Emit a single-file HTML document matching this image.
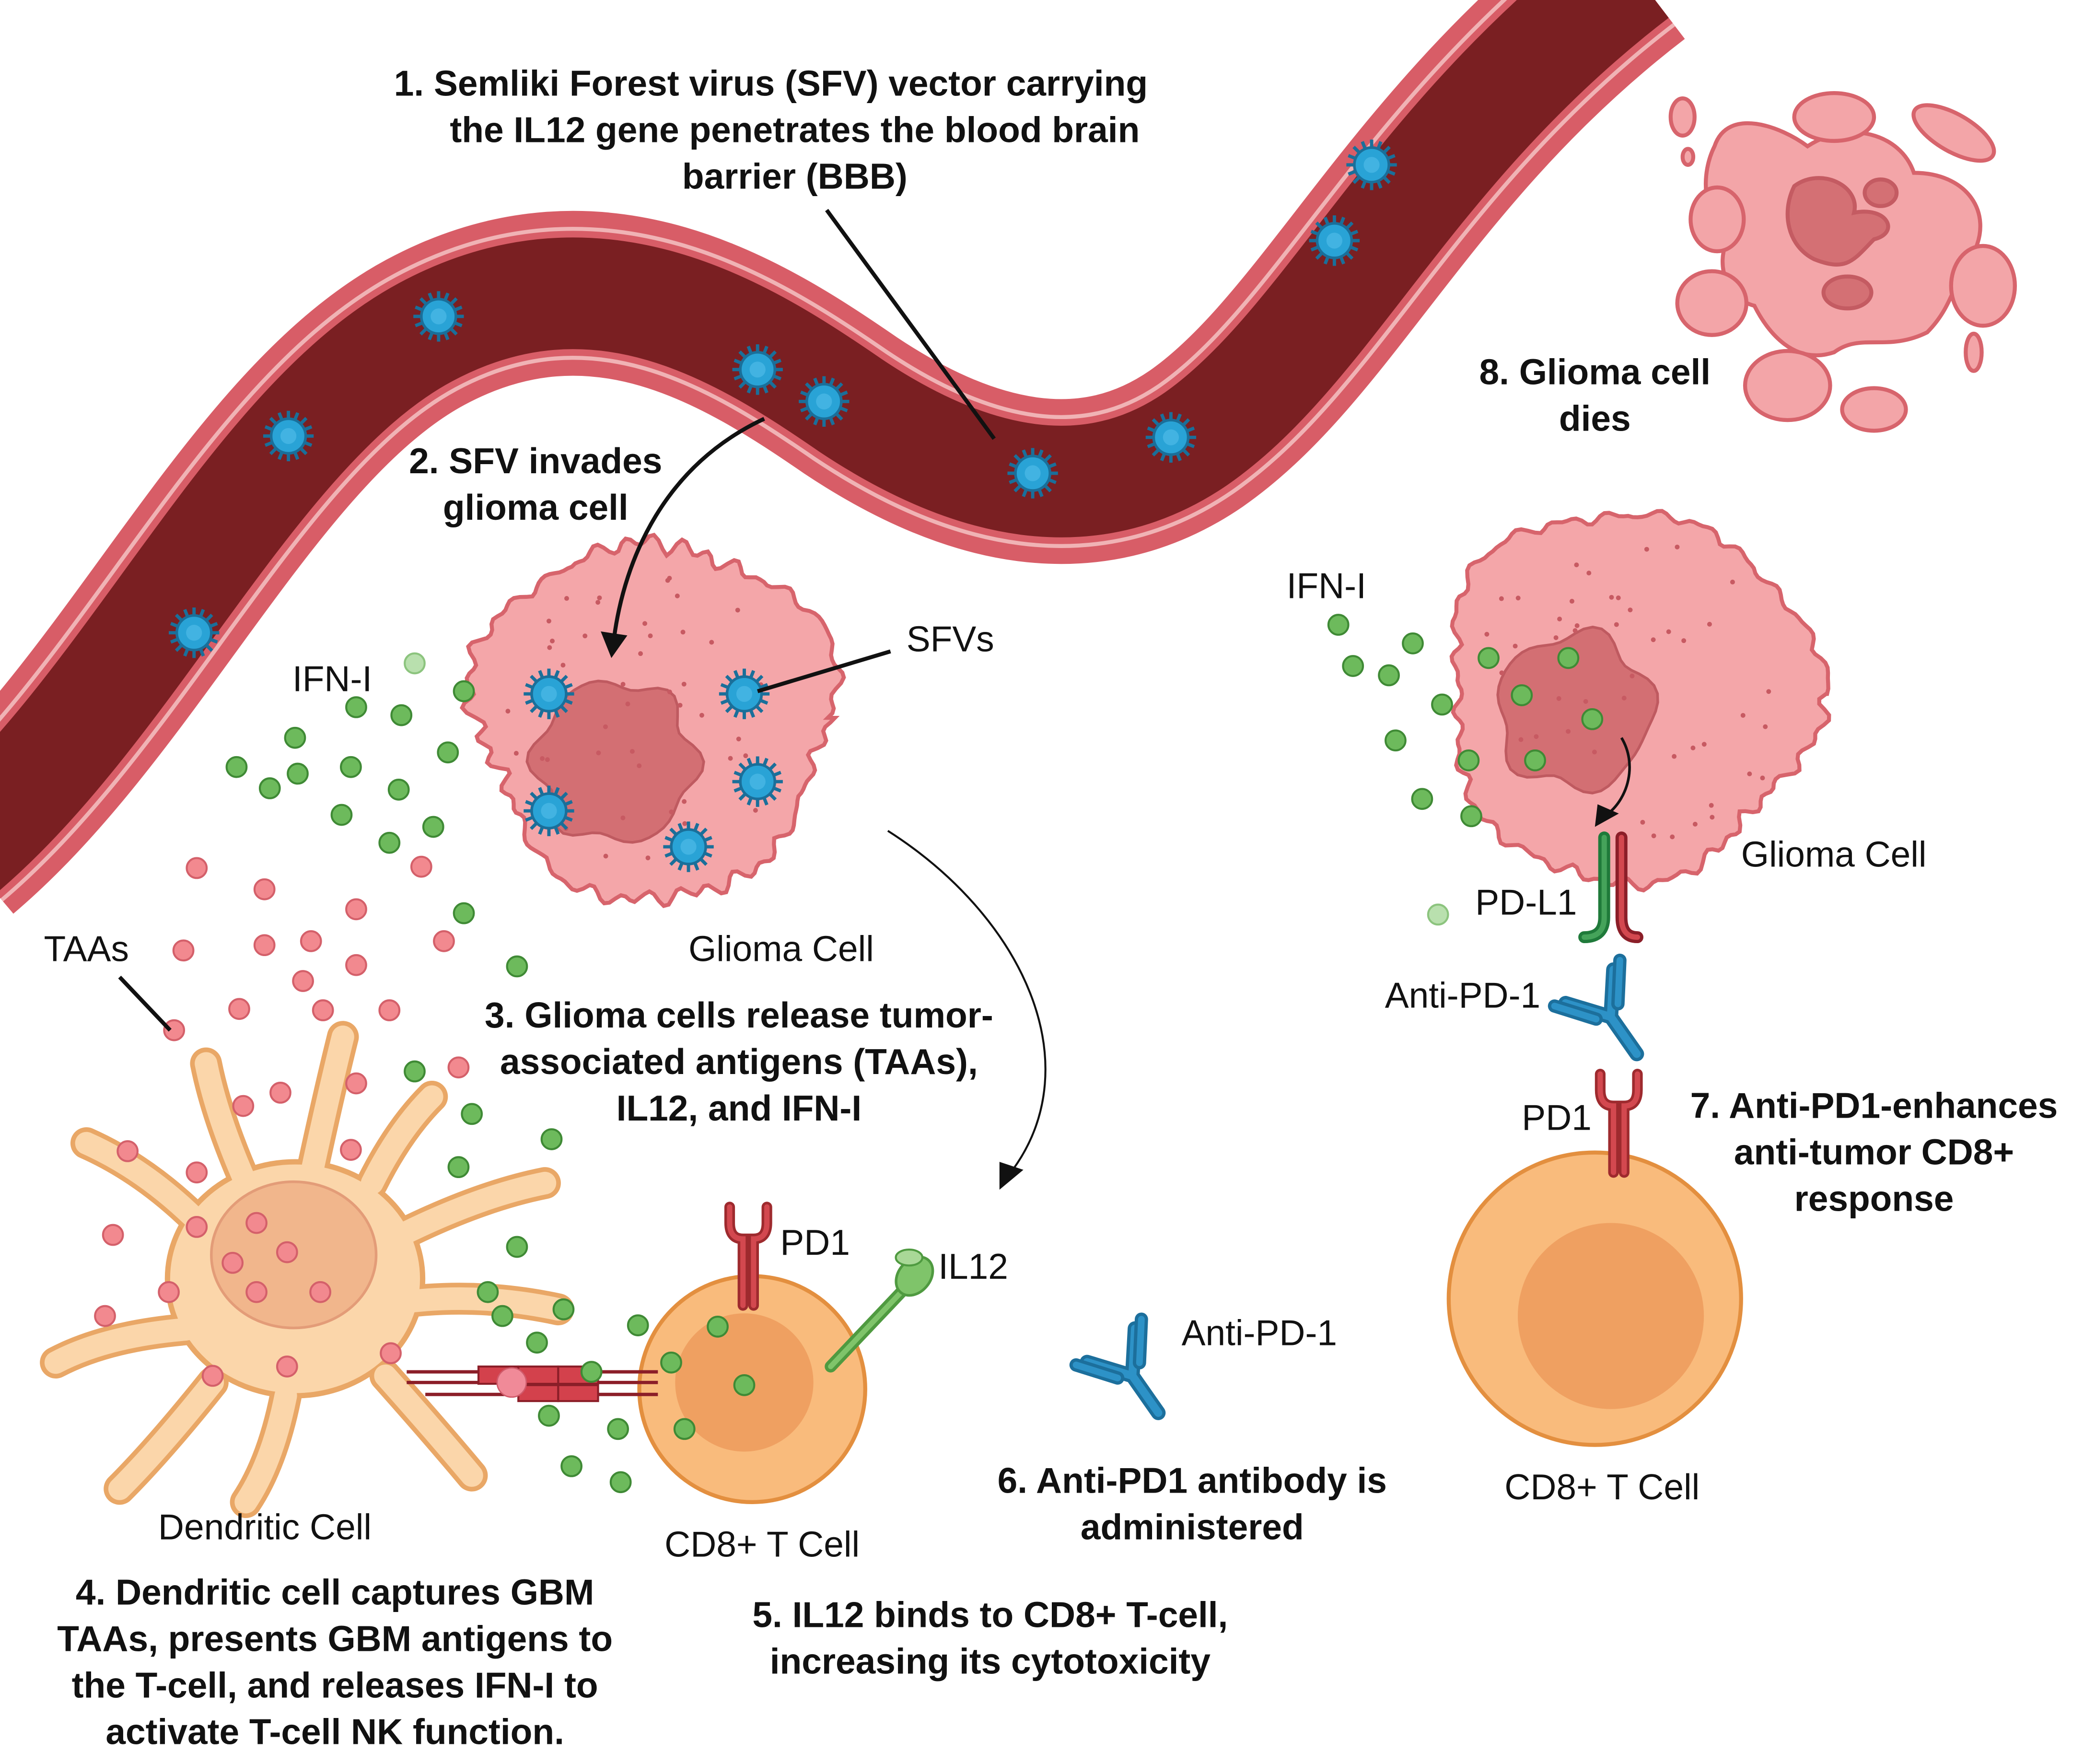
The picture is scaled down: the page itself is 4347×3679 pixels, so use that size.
<!DOCTYPE html>
<html><head><meta charset="utf-8"><style>
html,body{margin:0;padding:0;background:#fff}
svg{display:block}
text{font-family:"Liberation Sans",sans-serif;fill:#111}
.b{font-weight:bold;font-size:27px}
.n{font-size:27px}
</style></head><body>
<svg id="s" width="4347" height="3679" viewBox="0 0 1568 1327" xmlns="http://www.w3.org/2000/svg">
<defs>
<g id="v">
<g stroke="#1a6f9a" stroke-width="2.5">
<line x1="0" y1="-19" x2="0" y2="19"/><line x1="-19" y1="0" x2="19" y2="0"/>
<line x1="-13.5" y1="-13.5" x2="13.5" y2="13.5"/><line x1="13.5" y1="-13.5" x2="-13.5" y2="13.5"/>
<line x1="-7" y1="-17.5" x2="7" y2="17.5"/><line x1="7" y1="-17.5" x2="-7" y2="17.5"/>
<line x1="-17.5" y1="-7" x2="17.5" y2="7"/><line x1="17.5" y1="-7" x2="-17.5" y2="7"/>
</g>
<circle r="13" fill="#29a3d6" stroke="#1a6f9a" stroke-width="2"/>
<circle r="6" fill="#5cc4ee" opacity=".5"/>
</g>
<g id="ab" fill="none" stroke-linecap="round">
<path d="M0,0 L0,34 M0,0 L-22,-28 M0,0 L22,-28" stroke="#1c6f9c" stroke-width="11"/>
<path d="M0,0 L0,34 M0,0 L-22,-28 M0,0 L22,-28" stroke="#2d92c7" stroke-width="6"/>
<path d="M-10,-5 L-30,-31 M10,-5 L30,-31" stroke="#1c6f9c" stroke-width="10"/>
<path d="M-10,-5 L-30,-31 M10,-5 L30,-31" stroke="#2d92c7" stroke-width="5"/>
</g>
<g id="pd1">
<path d="M-4,60 L-4,10 Q-14,10 -14,-2 L-14,-14 M4,60 L4,10 Q14,10 14,-2 L14,-14" fill="none" stroke="#9e2a2e" stroke-width="8" stroke-linecap="round"/>
<path d="M-4,60 L-4,10 Q-14,10 -14,-2 L-14,-14 M4,60 L4,10 Q14,10 14,-2 L14,-14" fill="none" stroke="#d3484f" stroke-width="4" stroke-linecap="round"/>
</g>
<path id="arms" d="M235,880 Q248,820 258,780 M185,890 Q163,840 155,800 M150,920 Q110,880 65,860 M140,1000 Q80,1005 42,1025 M160,1040 Q120,1090 90,1120 M215,1050 Q205,1100 185,1130 M290,1035 Q330,1080 355,1110 M300,980 Q360,972 420,985 M300,930 Q360,900 410,890 M280,890 Q300,850 325,825"/>
</defs>

<g fill="none">
<path d="M-30,640 C100,530 190,320 320,250 C450,180 560,250 640,305 C730,365 820,385 900,330 C1000,260 1060,110 1230,-20" stroke="#d85d67" stroke-width="124"/>
<path d="M-30,640 C100,530 190,320 320,250 C450,180 560,250 640,305 C730,365 820,385 900,330 C1000,260 1060,110 1230,-20" stroke="#f0b3b5" stroke-width="100"/>
<path d="M-30,640 C100,530 190,320 320,250 C450,180 560,250 640,305 C730,365 820,385 900,330 C1000,260 1060,110 1230,-20" stroke="#d85d67" stroke-width="94"/>
<path d="M-30,640 C100,530 190,320 320,250 C450,180 560,250 640,305 C730,365 820,385 900,330 C1000,260 1060,110 1230,-20" stroke="#7a1f22" stroke-width="84"/>
</g>

<g fill="#f3a5a8" stroke="#d7646c" stroke-width="3">
<path d="M1290,110 C1300,80 1340,95 1360,110 C1390,90 1430,100 1440,130 C1480,130 1500,160 1485,190 C1470,210 1470,230 1450,250 C1420,265 1400,250 1380,265 C1350,275 1330,250 1320,230 C1300,225 1290,200 1300,180 C1280,160 1280,130 1290,110 Z"/>
<ellipse cx="1380" cy="88" rx="30" ry="18"/>
<ellipse cx="1470" cy="100" rx="34" ry="14" transform="rotate(30 1470 100)"/>
<ellipse cx="1292" cy="165" rx="20" ry="24"/>
<ellipse cx="1288" cy="228" rx="26" ry="24"/>
<ellipse cx="1492" cy="215" rx="24" ry="30"/>
<ellipse cx="1345" cy="290" rx="32" ry="26"/>
<ellipse cx="1410" cy="308" rx="24" ry="16"/>
<ellipse cx="1485" cy="265" rx="6" ry="14"/>
<ellipse cx="1266" cy="88" rx="9" ry="14"/>
<ellipse cx="1270" cy="118" rx="4" ry="6"/>
<path d="M1350,140 C1370,125 1400,140 1395,160 C1420,155 1430,175 1410,180 C1395,195 1390,205 1365,195 C1345,185 1340,160 1350,140 Z" fill="#d47074" stroke="#c45b62"/>
<ellipse cx="1390" cy="220" rx="18" ry="12" fill="#d47074" stroke="#c45b62"/>
<ellipse cx="1415" cy="145" rx="12" ry="10" fill="#d47074" stroke="#c45b62"/>
</g>

<path id="g1" fill="#f4a6a9" stroke="#d7646c" stroke-width="3"/>
<path id="n1" fill="#d36f73" stroke="#bf5a60" stroke-width="2"/>
<path id="g2" fill="#f4a6a9" stroke="#d7646c" stroke-width="3"/>
<path id="n2" fill="#d36f73" stroke="#bf5a60" stroke-width="2"/>
<g id="spk"></g>

<!-- dendritic cell -->
<use href="#arms" fill="none" stroke="#e9a766" stroke-width="24" stroke-linecap="round"/>
<ellipse cx="222" cy="962" rx="96" ry="88" fill="#fbd6aa" stroke="#e9a766" stroke-width="4"/>
<use href="#arms" fill="none" stroke="#fbd6aa" stroke-width="17" stroke-linecap="round"/>
<ellipse cx="221" cy="944" rx="62" ry="55" fill="#f1b68c" stroke="#e39c78" stroke-width="2"/>

<g id="vir"></g>

<circle cx="566" cy="1045" r="85" fill="#f9bb7c" stroke="#e38f3f" stroke-width="3"/>
<circle cx="560" cy="1040" r="52" fill="#efa061"/>
<circle cx="1200" cy="977" r="110" fill="#f9bb7c" stroke="#e38f3f" stroke-width="3"/>
<circle cx="1212" cy="990" r="70" fill="#efa061"/>

<g stroke="#8b1e28" stroke-width="2.5" fill="none">
<line x1="306" y1="1032" x2="495" y2="1032"/><line x1="306" y1="1040" x2="495" y2="1040"/>
<line x1="320" y1="1049" x2="495" y2="1049"/>
</g>
<g fill="#d3414c" stroke="#8b1e28" stroke-width="1.5">
<rect x="360" y="1028" width="30" height="13"/><rect x="390" y="1028" width="30" height="13"/><rect x="420" y="1028" width="30" height="13"/>
<rect x="390" y="1042" width="30" height="12"/><rect x="420" y="1042" width="30" height="12"/>
</g>
<circle cx="385" cy="1040" r="11" fill="#f08a98" stroke="#d05a6a"/>

<use href="#pd1" x="563" y="922"/>
<use href="#pd1" x="1218" y="822"/>
<path d="M1207,630 L1207,690 Q1207,705 1192,705" fill="none" stroke="#1f7a3a" stroke-width="9" stroke-linecap="round"/>
<path d="M1207,630 L1207,690 Q1207,705 1192,705" fill="none" stroke="#45a35a" stroke-width="4" stroke-linecap="round"/>
<path d="M1220,630 L1220,690 Q1220,705 1232,705" fill="none" stroke="#8b1e28" stroke-width="9" stroke-linecap="round"/>
<path d="M1220,630 L1220,690 Q1220,705 1232,705" fill="none" stroke="#d3484f" stroke-width="4" stroke-linecap="round"/>

<line x1="625" y1="1028" x2="680" y2="970" stroke="#4f9a40" stroke-width="9" stroke-linecap="round"/>
<line x1="625" y1="1028" x2="680" y2="970" stroke="#7fc46a" stroke-width="4" stroke-linecap="round"/>
<ellipse cx="688" cy="960" rx="12" ry="16" fill="#7fc46a" stroke="#4f9a40" stroke-width="2" transform="rotate(40 688 960)"/>
<ellipse cx="684" cy="946" rx="10" ry="6" fill="#a9d897" stroke="#4f9a40" stroke-width="1.5"/>

<use href="#ab" transform="translate(852,1035) rotate(-35)"/>
<use href="#ab" transform="translate(1212,765) rotate(-35)"/>

<g id="dots"></g>

<g fill="none" stroke="#111" stroke-width="3">
<line x1="622" y1="158" x2="748" y2="330"/>
<line x1="670" y1="490" x2="570" y2="520"/>
<line x1="90" y1="735" x2="128" y2="775"/>
</g>
<path d="M575,315 C500,350 470,420 462,480" fill="none" stroke="#111" stroke-width="3"/>
<polygon points="452,475 472,478 460,495" fill="#111"/>
<path d="M668,625 C770,690 820,800 762,880" fill="none" stroke="#111" stroke-width="1.5"/>
<polygon points="752,874 770,880 752,895" fill="#111"/>
<path d="M1220,555 C1232,575 1225,600 1210,612" fill="none" stroke="#111" stroke-width="2"/>
<polygon points="1202,605 1218,612 1200,622" fill="#111"/>

<g class="b" text-anchor="middle">
<text x="580" y="72">1.  Semliki Forest virus (SFV) vector carrying</text>
<text x="598" y="107">the IL12 gene penetrates the blood brain</text>
<text x="598" y="142">barrier (BBB)</text>
<text x="403" y="356">2. SFV invades</text>
<text x="403" y="391">glioma cell</text>
<text x="556" y="773">3. Glioma cells release tumor-</text>
<text x="556" y="808">associated antigens (TAAs),</text>
<text x="556" y="843">IL12, and IFN-I</text>
<text x="252" y="1207">4. Dendritic cell captures GBM</text>
<text x="252" y="1242">TAAs, presents GBM antigens to</text>
<text x="252" y="1277">the T-cell, and releases IFN-I to</text>
<text x="252" y="1312">activate T-cell NK function.</text>
<text x="745" y="1224">5. IL12 binds to CD8+ T-cell,</text>
<text x="745" y="1259">increasing its cytotoxicity</text>
<text x="897" y="1123">6. Anti-PD1 antibody is</text>
<text x="897" y="1158">administered</text>
<text x="1410" y="841">7. Anti-PD1-enhances</text>
<text x="1410" y="876">anti-tumor CD8+</text>
<text x="1410" y="911">response</text>
<text x="1200" y="289">8. Glioma cell</text>
<text x="1200" y="324">dies</text>
</g>
<g class="n">
<text x="682" y="490">SFVs</text>
<text x="220" y="520">IFN-I</text>
<text x="968" y="450">IFN-I</text>
<text x="33" y="723">TAAs</text>
<text x="518" y="723">Glioma Cell</text>
<text x="1310" y="652">Glioma Cell</text>
<text x="1110" y="688">PD-L1</text>
<text x="1042" y="758">Anti-PD-1</text>
<text x="1145" y="850">PD1</text>
<text x="587" y="944">PD1</text>
<text x="706" y="962">IL12</text>
<text x="889" y="1012">Anti-PD-1</text>
<text x="119" y="1158">Dendritic Cell</text>
<text x="500" y="1171">CD8+ T Cell</text>
<text x="1132" y="1128">CD8+ T Cell</text>
</g>
</svg>
<script>
function lumpy(cx,cy,r,seed,bumps){var s=seed;function rnd(){s=(s*9301+49297)%233280;return s/233280;}
var ph=[];for(var k=0;k<8;k++)ph.push(rnd()*6.28);var d='';var N=240;
for(var i=0;i<=N;i++){var a=i/N*Math.PI*2;
var rr=r+r*0.05*Math.sin(3*a+ph[0])+r*0.04*Math.sin(5*a+ph[1])+6*Math.abs(Math.sin(bumps*a/2+ph[2]))+3*Math.sin(bumps*1.7*a+ph[3])+2*Math.sin(41*a+ph[4]);
d+=(i?' L':'M')+(cx+rr*Math.cos(a)).toFixed(1)+','+(cy+rr*Math.sin(a)).toFixed(1);}return d+'Z';}
function smooth(cx,cy,r,amp,n,seed){var d='';for(var i=0;i<=60;i++){var a=i/60*Math.PI*2;var rr=r+amp*Math.sin(a*n+seed)+amp*0.5*Math.sin(a*(n+2)+seed*2);d+=(i?' L':'M')+(cx+rr*Math.cos(a)).toFixed(1)+','+(cy+rr*Math.sin(a)).toFixed(1);}return d+'Z';}
document.getElementById('g1').setAttribute('d',lumpy(492,540,130,7,22));
document.getElementById('n1').setAttribute('d',smooth(463,573,60,5,6,1));
document.getElementById('g2').setAttribute('d',lumpy(1225,522,135,3,24));
document.getElementById('n2').setAttribute('d',smooth(1185,535,58,5,5,2));
var ns='http://www.w3.org/2000/svg';
var V=[[330,238],[217,328],[146,476],[570,278],[620,302],[777,356],[881,329],[1004,181],[1032,124],[413,522],[560,522],[570,588],[413,610],[518,637]];
var vg=document.getElementById('vir');V.forEach(function(p){var u=document.createElementNS(ns,'use');u.setAttribute('href','#v');u.setAttribute('x',p[0]);u.setAttribute('y',p[1]);vg.appendChild(u);});
var spk=document.getElementById('spk');
[[492,540,130,11],[1225,522,135,12]].forEach(function(c){var s=c[3];function rnd(){s=(s*9301+49297)%233280;return s/233280;}
for(var i=0;i<45;i++){var a=rnd()*6.28,rr=Math.sqrt(rnd())*c[2]*0.9;var e=document.createElementNS(ns,'circle');e.setAttribute('cx',c[0]+rr*Math.cos(a));e.setAttribute('cy',c[1]+rr*Math.sin(a));e.setAttribute('r',1.8);e.setAttribute('fill','#c75a62');spk.appendChild(e);}});
var G=[[349,520],[268,532],[302,538],[222,555],[178,577],[224,582],[264,577],[337,566],[203,593],[300,594],[257,613],[326,622],[293,634],[349,687],[389,727],[312,806],[355,838],[415,857],[345,878],[389,938],[367,972],[424,985],[404,1010],[445,1032],[413,1065],[480,997],[505,1025],[540,998],[560,1042],[515,1075],[465,1075],[430,1103],[467,1115],[378,990],[1007,470],[1063,484],[1018,501],[1045,508],[1085,530],[1120,495],[1180,495],[1145,523],[1198,541],[1050,557],[1105,572],[1155,572],[1070,601],[1107,614]];
var P=[[148,653],[199,669],[268,684],[234,708],[334,708],[138,715],[199,711],[268,726],[228,738],[180,759],[243,760],[293,760],[131,775],[345,803],[268,815],[211,822],[183,832],[264,865],[96,866],[148,882],[193,920],[216,942],[175,950],[193,972],[241,972],[127,972],[148,923],[79,990],[160,1035],[216,1028],[294,1018],[85,929],[317,652]];
var dg=document.getElementById('dots');
function dot(p,f,s){var c=document.createElementNS(ns,'circle');c.setAttribute('cx',p[0]);c.setAttribute('cy',p[1]);c.setAttribute('r',7.5);c.setAttribute('fill',f);c.setAttribute('stroke',s);c.setAttribute('stroke-width',1.5);dg.appendChild(c);}
G.forEach(function(p){dot(p,'#6dba5c','#3f8a35');});P.forEach(function(p){dot(p,'#f2898f','#d4606a');});
dot([312,499],'#b9e0ae','#8cc47e');dot([1082,688],'#b9e0ae','#8cc47e');
</script>
</body></html>
